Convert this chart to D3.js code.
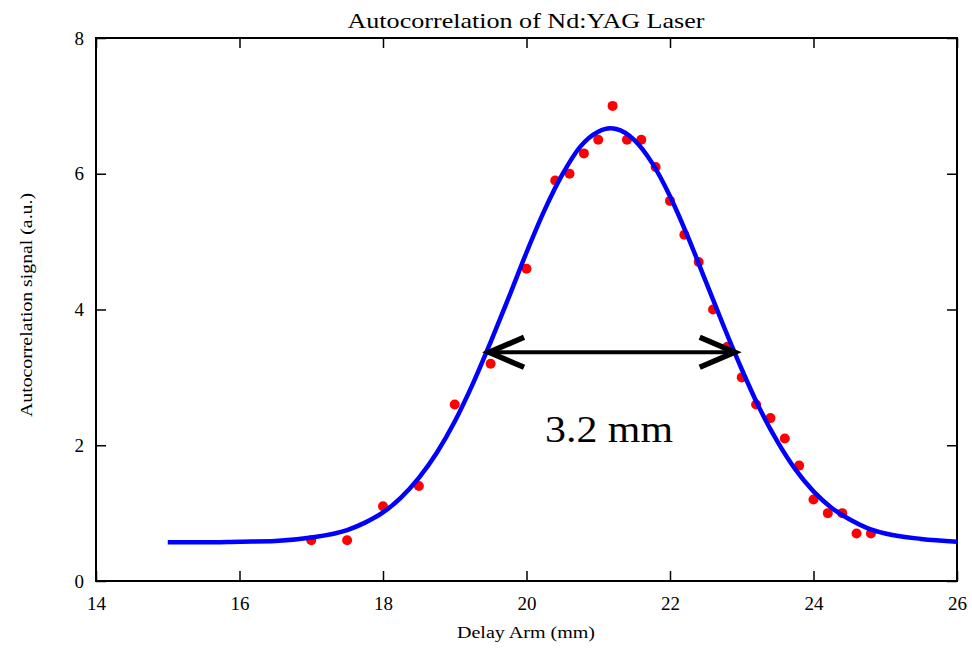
<!DOCTYPE html>
<html><head><meta charset="utf-8">
<script src="https://cdn.jsdelivr.net/npm/d3@7"></script>
<style>body{margin:0;background:#fff}svg{display:block}text{font-family:"Liberation Serif","Times New Roman",serif}</style>
</head><body>
<script>
// measured data points
const pointX = [17,17.5,18,18.5,19,19.5,20,20.4,20.6,20.8,21,21.2,21.4,21.6,21.8,22,22.2,22.4,22.6,22.8,23,23.2,23.4,23.6,23.8,24,24.2,24.4,24.6,24.8];
const pointY = [0.6,0.6,1.1,1.4,2.6,3.2,4.6,5.9,6.0,6.3,6.5,7.0,6.5,6.5,6.1,5.6,5.1,4.7,4.0,3.45,3.0,2.6,2.4,2.1,1.7,1.2,1.0,1.0,0.7,0.7];
// fitted curve
const fitX = [15,15.5,16,16.5,17,17.5,17.75,18,18.25,18.5,18.75,19,19.25,19.5,19.75,20,20.25,20.5,20.75,21,21.17,21.25,21.5,21.75,22,22.25,22.5,22.75,23,23.25,23.5,23.75,24,24.25,24.5,24.75,25,25.5,26];
const fitY = [0.57,0.57,0.58,0.59,0.64,0.75,0.86,1.01,1.23,1.52,1.89,2.35,2.90,3.52,4.17,4.84,5.46,5.99,6.40,6.62,6.67,6.66,6.50,6.16,5.67,5.07,4.41,3.75,3.12,2.54,2.05,1.64,1.32,1.08,0.91,0.78,0.70,0.62,0.58];
const xTicks = [14,16,18,20,22,24,26];
const yTicks = [0,2,4,6,8];
const fwhmX = [19.45, 22.93];
const fwhmY = 3.37;
const fwhmLabel = "3.2 mm";

const W = 972, H = 650;
const mLeft = 96, mRight = 957, mTop = 38, mBottom = 581;
const svg = d3.select("body").append("svg").attr("width", W).attr("height", H);
const x = d3.scaleLinear().domain([14, 26]).range([mLeft, mRight]);
const y = d3.scaleLinear().domain([0, 8]).range([mBottom, mTop]);

const tk = 10;
const axStyle = g => {
  g.attr("font-size", 19);
  g.select(".domain").remove();
  g.selectAll(".tick line").attr("stroke", "#000").attr("stroke-width", 1.5);
  g.selectAll(".tick text").attr("font-size", 19).attr("fill", "#000").style("font-family", '"Liberation Serif",serif');
};
svg.append("g").attr("transform", `translate(0,${mBottom})`)
  .call(d3.axisBottom(x).tickValues(xTicks).tickSize(-tk).tickPadding(16).tickFormat(d3.format("d"))).call(axStyle);
svg.append("g").attr("transform", `translate(${mLeft},0)`)
  .call(d3.axisLeft(y).tickValues(yTicks).tickSize(-tk).tickPadding(12).tickFormat(d3.format("d"))).call(axStyle);
svg.append("g").attr("transform", `translate(0,${mTop})`)
  .call(d3.axisTop(x).tickValues(xTicks).tickSize(-tk).tickFormat("")).call(axStyle);
svg.append("g").attr("transform", `translate(${mRight},0)`)
  .call(d3.axisRight(y).tickValues(yTicks).tickSize(-tk).tickFormat("")).call(axStyle);

svg.append("rect").attr("x", mLeft).attr("y", mTop).attr("width", mRight - mLeft).attr("height", mBottom - mTop)
  .attr("fill", "none").attr("stroke", "#000").attr("stroke-width", 2);

// points
svg.append("g").selectAll("circle").data(pointX.map((d, i) => [d, pointY[i]])).join("circle")
  .attr("cx", d => x(d[0])).attr("cy", d => y(d[1])).attr("r", 5).attr("fill", "#ff0000");

// fit line
const line = d3.line().x(d => x(d[0])).y(d => y(d[1])).curve(d3.curveMonotoneX);
svg.append("path").datum(fitX.map((d, i) => [d, fitY[i]])).attr("d", line)
  .attr("fill", "none").attr("stroke", "#0000ff").attr("stroke-width", 4.5);

// double arrow
const ax1 = x(fwhmX[0]), ax2 = x(fwhmX[1]), ay = y(fwhmY);
const ag = svg.append("g").attr("stroke", "#000").attr("fill", "none").attr("stroke-linecap", "butt");
ag.append("line").attr("x1", ax1 + 2).attr("x2", ax2 - 2).attr("y1", ay).attr("y2", ay).attr("stroke-width", 4);
ag.append("path").attr("d", `M${ax1 + 37},${ay - 15}L${ax1 + 2},${ay}L${ax1 + 37},${ay + 15}`).attr("stroke-width", 5.5);
ag.append("path").attr("d", `M${ax2 - 37},${ay - 15}L${ax2 - 2},${ay}L${ax2 - 37},${ay + 15}`).attr("stroke-width", 5.5);

svg.append("text").attr("x", 609).attr("y", 442).attr("text-anchor", "middle")
  .attr("font-size", 37).attr("textLength", 128).attr("lengthAdjust", "spacingAndGlyphs").text(fwhmLabel);

// titles
svg.append("text").attr("x", 526).attr("y", 28).attr("text-anchor", "middle").attr("font-size", 21)
  .attr("textLength", 357).attr("lengthAdjust", "spacingAndGlyphs").text("Autocorrelation of Nd:YAG Laser");
svg.append("text").attr("x", 526).attr("y", 638).attr("text-anchor", "middle").attr("font-size", 16)
  .attr("textLength", 138).attr("lengthAdjust", "spacingAndGlyphs").text("Delay Arm (mm)");
svg.append("text").attr("transform", "translate(32,305) rotate(-90)").attr("text-anchor", "middle").attr("font-size", 16)
  .attr("textLength", 224).attr("lengthAdjust", "spacingAndGlyphs").text("Autocorrelation signal (a.u.)");
</script>
</body></html>
